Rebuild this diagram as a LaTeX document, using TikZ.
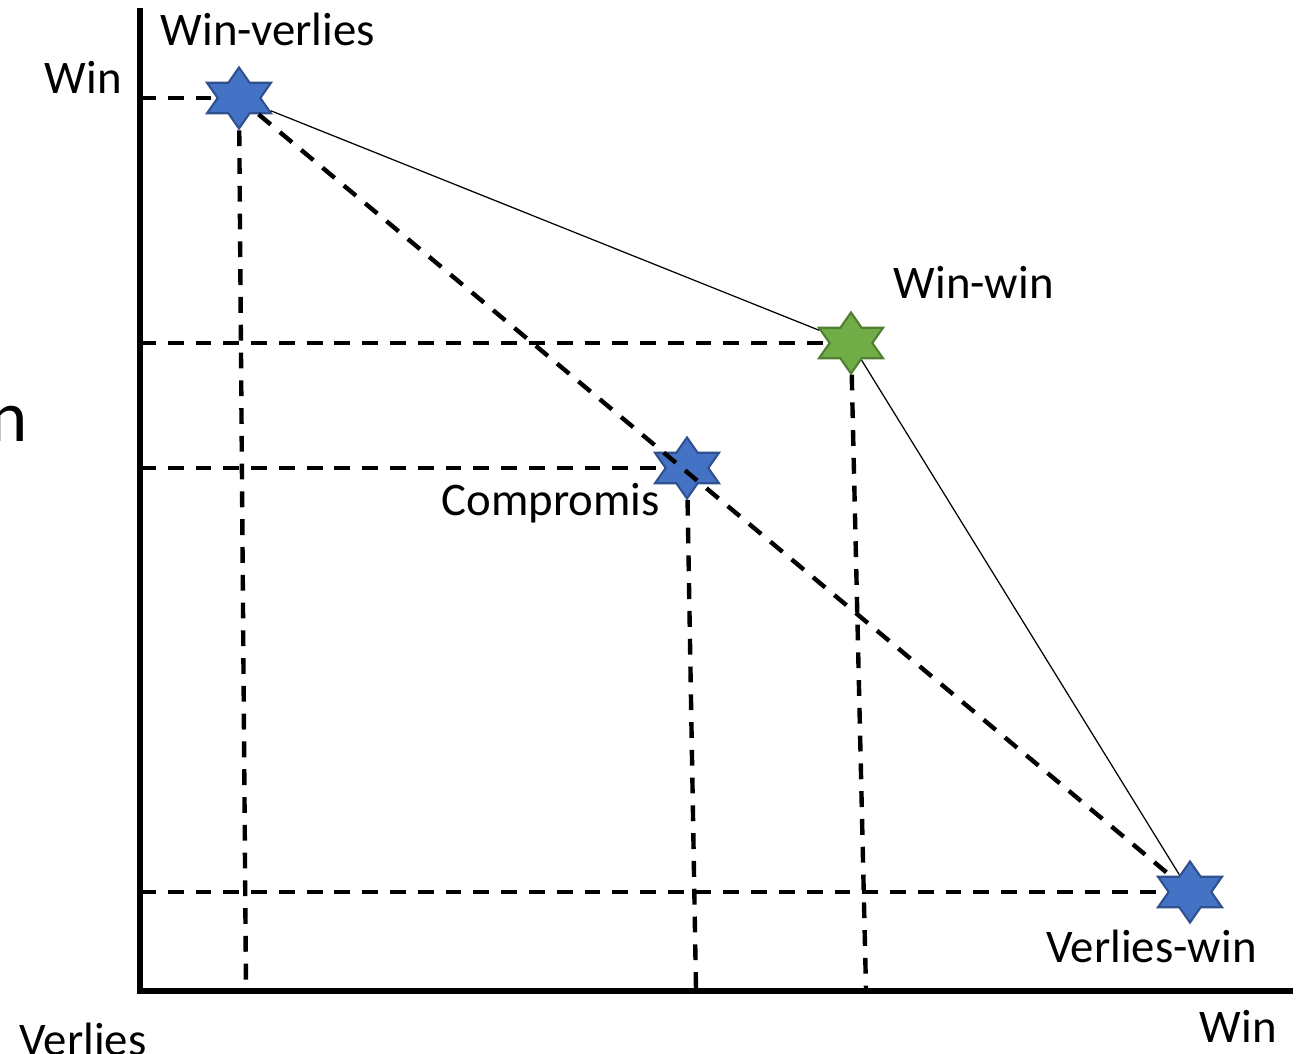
\documentclass[tikz,border=0pt]{standalone}
\usepackage{fontspec}
\setmainfont{Carlito}
\usetikzlibrary{shapes.geometric}
\definecolor{starblue}{HTML}{4472C4}
\definecolor{starblueline}{HTML}{2F528F}
\definecolor{stargreen}{HTML}{70AD47}
\definecolor{stargreenline}{HTML}{507E32}
\begin{document}
\begin{tikzpicture}[x=0.01cm, y=-0.01cm,
    lbl/.style={inner sep=0pt, font=\fontsize{13.3}{16}\selectfont},
    guide/.style={line width=1.25pt, dash pattern=on 4.5pt off 3.4pt},
    link/.style={line width=0.35pt},
    hexstar/.style={star, star points=6, star point ratio=1.732,
        minimum size=0.61cm, inner sep=0pt, xscale=1.21, line width=0.6pt},
    bluestar/.style={hexstar, fill=starblue, draw=starblueline},
    greenstar/.style={hexstar, fill=stargreen, draw=stargreenline}]
        \useasboundingbox (0,0) rectangle (1296,1053);

        % Axes
        \coordinate (top) at (140,8);
        \coordinate (o) at (140,991);
        \coordinate (end) at (1293,991);
        \draw[line width=1.45pt] (top) -- (o) -- (end);

        % Outcomes
        \node[bluestar] (wv) at (239,98) {};
        \node[greenstar] (ww) at (851,343) {};
        \node[bluestar] (cp) at (687,468) {};
        \node[bluestar] (vw) at (1190,892) {};

        % Feet of the guides on the x-axis
        \coordinate (wvfoot) at (246,989);
        \coordinate (cpfoot) at (696,989);
        \coordinate (wwfoot) at (866,989);

        % Guides to the axes
        \draw[guide] (o |- wv) -- (wv);
        \draw[guide] (o |- ww) -- (ww);
        \draw[guide] (o |- cp) -- (cp);
        \draw[guide] (o |- vw) -- (vw);
        \draw[guide] (wv) -- (wvfoot);
        \draw[guide] (cp) -- (cpfoot);
        \draw[guide] (ww) -- (wwfoot);

        % Frontier and compromise line
        \draw[guide] (wv) -- (vw);
        \draw[link] (wv) -- (ww);
        \draw[link] (ww) -- (vw);

        % Labels
        \node[lbl, anchor=base west] (lblwv) at (160,45) {Win-verlies};
        \node[lbl, anchor=base west] (lblwin) at (44,93) {Win};
        \node[lbl, anchor=base west] (lblww) at (893,298) {Win-win};
        \node[lbl, anchor=base west] (lblcp) at (441,515) {Compromis};
        \node[lbl, anchor=base west] (lblvw) at (1046,962) {Verlies-win};
        \node[lbl, anchor=base west] (lblxwin) at (1199,1042) {Win};
        \node[lbl, anchor=base west] (lblverlies) at (19,1055) {Verlies};
        \node[inner sep=0pt, anchor=base east, font=\fontsize{20.7}{24}\selectfont] (lbln) at (28,441) {n};
\end{tikzpicture}
\end{document}
